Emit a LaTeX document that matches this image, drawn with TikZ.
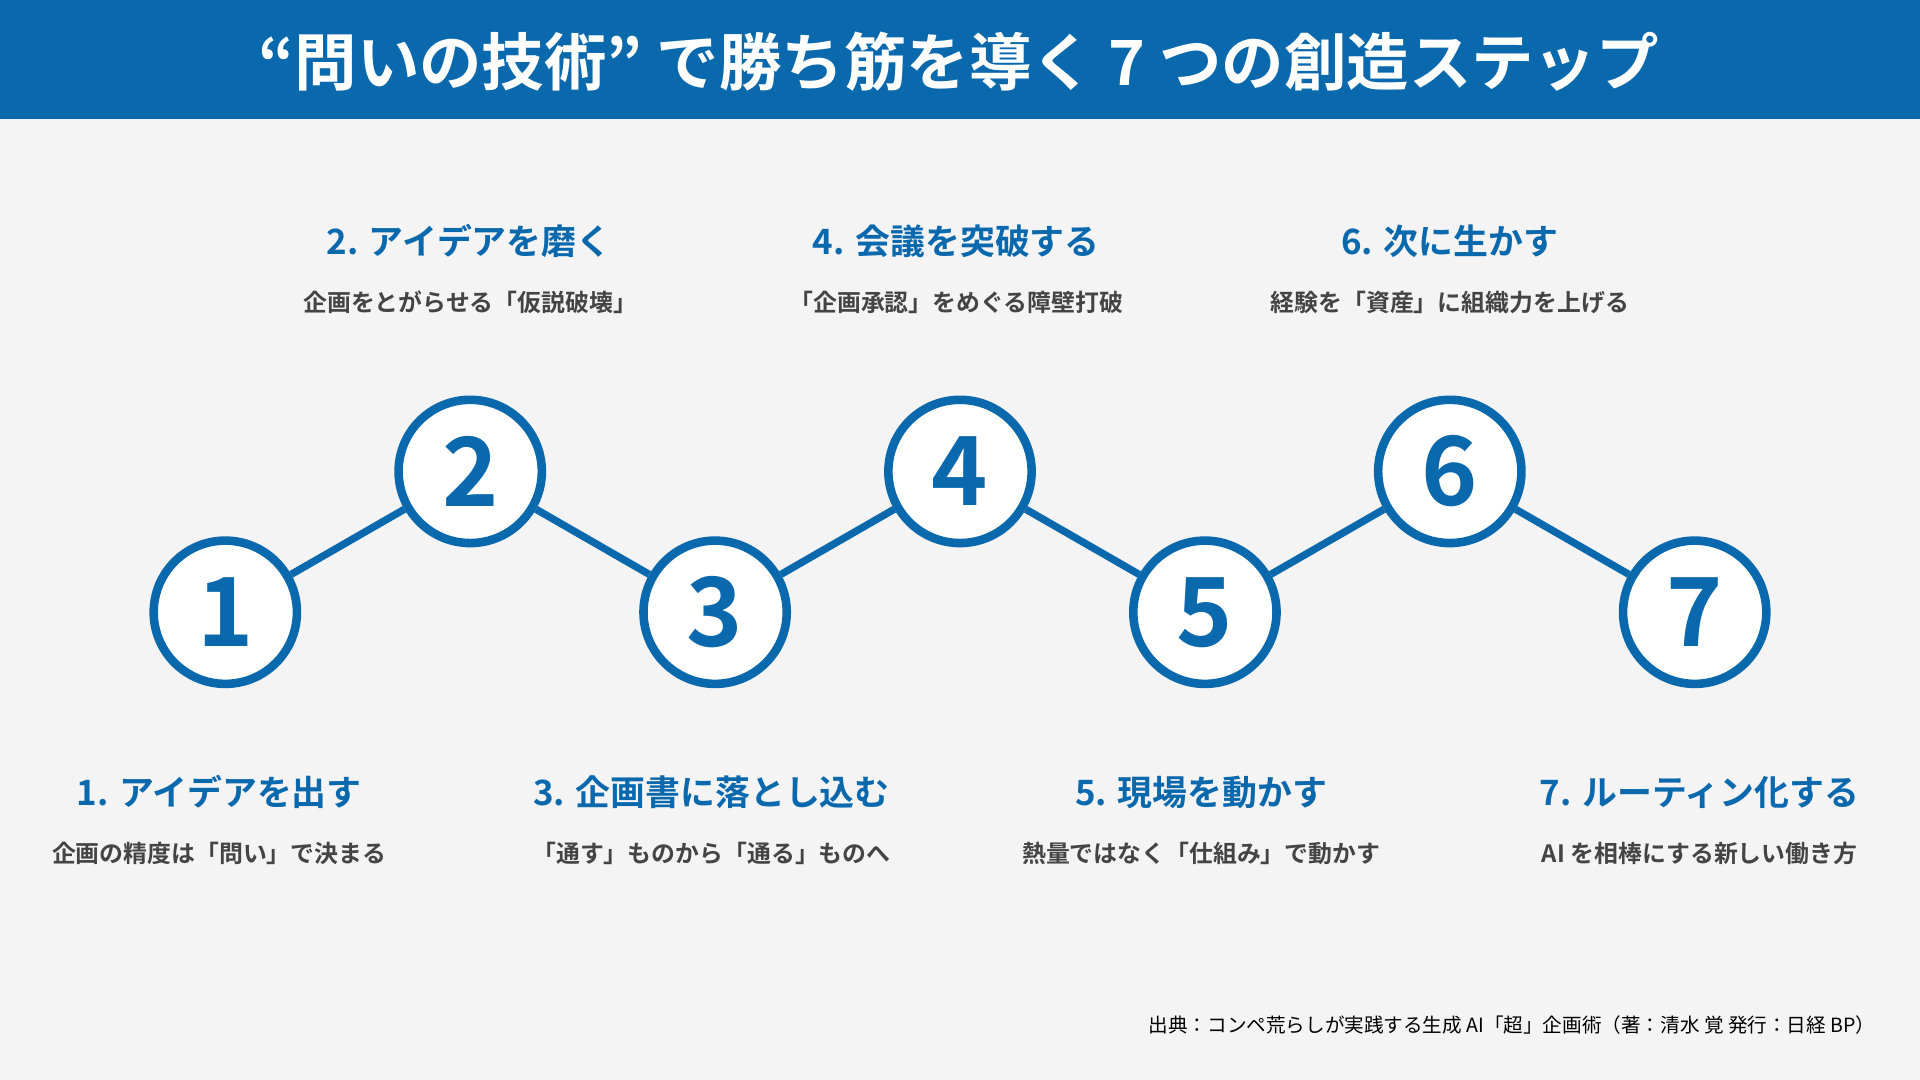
\documentclass[tikz,border=0pt]{standalone}
\usepackage{fontspec}
\setmainfont{Noto Sans CJK JP}
\newfontfamily\jpb{Noto Sans CJK JP Bold}
\definecolor{mainblue}{HTML}{0A68AD}
\definecolor{bg}{HTML}{F4F4F4}
\definecolor{txt}{HTML}{444444}
\begin{document}
\begin{tikzpicture}[x=1pt,y=-1pt,
  stepcirc/.style={circle,draw=mainblue,line width=7pt,fill=white,minimum size=117pt,inner sep=0pt,text=mainblue,font=\jpb\fontsize{78}{78}\selectfont},
  link/.style={draw=mainblue,line width=6pt},
  ttl/.style={text=mainblue,font=\jpb\fontsize{28.5}{32}\selectfont,anchor=center},
  sub/.style={text=txt,font=\jpb\fontsize{19.5}{23}\selectfont,anchor=center}]
\fill[bg] (0,0) rectangle (1568,882);
\useasboundingbox (0,0) rectangle (1568,882);
\fill[mainblue] (0,0) rectangle (1568,97);
\node[text=white,font=\jpb\fontsize{51}{56}\selectfont] (title) at (783,50) {“問いの技術” で勝ち筋を導く 7 つの創造ステップ};
\node[stepcirc] (c1) at (184,500) {1};
\node[stepcirc] (c2) at (384,385) {2};
\node[stepcirc] (c3) at (584,500) {3};
\node[stepcirc] (c4) at (784,385) {4};
\node[stepcirc] (c5) at (984,500) {5};
\node[stepcirc] (c6) at (1184,385) {6};
\node[stepcirc] (c7) at (1384,500) {7};
\path[link] (c1) -- (c2); \path[link] (c2) -- (c3); \path[link] (c3) -- (c4);
\path[link] (c4) -- (c5); \path[link] (c5) -- (c6); \path[link] (c6) -- (c7);
\node[ttl] (t2) at (383,197) {2. アイデアを磨く};
\node[sub] (s2) at (384,247) {企画をとがらせる「仮説破壊」};
\node[ttl] (t4) at (781,197) {4. 会議を突破する};
\node[sub] (s4) at (781,247) {「企画承認」をめぐる障壁打破};
\node[ttl] (t6) at (1184,197) {6. 次に生かす};
\node[sub] (s6) at (1184,247) {経験を「資産」に組織力を上げる};
\node[ttl] (t1) at (179,647) {1. アイデアを出す};
\node[sub] (s1) at (179,697) {企画の精度は「問い」で決まる};
\node[ttl] (t3) at (581,647) {3. 企画書に落とし込む};
\node[sub] (s3) at (581,697) {「通す」ものから「通る」ものへ};
\node[ttl] (t5) at (981,647) {5. 現場を動かす};
\node[sub] (s5) at (981,697) {熱量ではなく「仕組み」で動かす};
\node[ttl] (t7) at (1388,647) {7. ルーティン化する};
\node[sub] (s7) at (1388,697) {AI を相棒にする新しい働き方};
\node[anchor=east,text=black,font=\fontsize{16}{19}\selectfont] (src) at (1535,837) {出典：コンペ荒らしが実践する生成 AI「超」企画術（著：清水 覚 発行：日経 BP）};
\end{tikzpicture}
\end{document}
